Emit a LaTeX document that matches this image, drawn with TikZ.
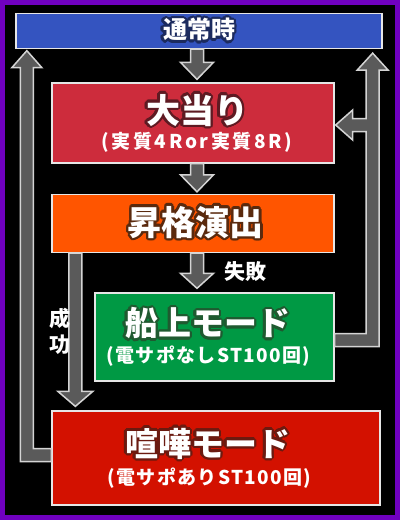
\documentclass[tikz,border=0pt]{standalone}
\usepackage{fontspec}
\setmainfont{Noto Sans CJK JP}
\newfontfamily\subfont{Noto Sans CJK JP}[LetterSpace=14]
\newfontfamily\modesubfont{Noto Sans CJK JP}[LetterSpace=7]
\newfontfamily\titlefont{Noto Sans CJK JP Black}
\usepackage{contour}
\contourlength{2.5pt}
\usetikzlibrary{calc}
\definecolor{framepurple}{HTML}{7000C0}
\definecolor{boxedge}{HTML}{E6E6E6}
\definecolor{arrowgray}{HTML}{5A5A5A}
\definecolor{arrowedge}{HTML}{D4D4D4}
\definecolor{normalblue}{HTML}{3454C0}
\definecolor{normaldark}{HTML}{1C2B5E}
\definecolor{jackred}{HTML}{CD2C3C}
\definecolor{jackdark}{HTML}{5E1A22}
\definecolor{promoorange}{HTML}{FF5500}
\definecolor{promodark}{HTML}{5A2A0E}
\definecolor{shipgreen}{HTML}{009944}
\definecolor{shipdark}{HTML}{1F5A30}
\definecolor{fightred}{HTML}{D31100}
\definecolor{fightdark}{HTML}{6B1A10}

\begin{document}
\begin{tikzpicture}[x=1pt, y=-1pt,
	box/.style={draw=boxedge, line width=1.3pt, inner sep=0pt, align=center, text=white},
	blockarrow/.style={fill=arrowgray, draw=arrowedge, line width=1.5pt, line join=miter},
	sidelabel/.style={text=white, inner sep=0pt, align=center, font=\bfseries\fontsize{21}{26}\selectfont}]
		\useasboundingbox (0,0) rectangle (400,520);
		\fill[framepurple] (0,0) rectangle (400,520);
		\fill[black] (5,5) rectangle (395,515);

		% boxes
		\node[box, fill=normalblue, minimum width=366, minimum height=35] (normal) at (199,31) {\titlefont\fontsize{24}{24}\selectfont\contour{normaldark}{通常時}};
		\node[box, fill=jackred, minimum width=282, minimum height=80] (jackpot) at (193,123) {\hspace*{8pt}{\titlefont\fontsize{34}{34}\selectfont\contour{jackdark}{大当り}}\\[2pt]\hspace*{8pt}{\subfont\bfseries\fontsize{19}{19}\selectfont (実質4Ror実質8R)}};
		\node[box, fill=promoorange, minimum width=282, minimum height=58] (promo) at (193,223.5) {\hspace*{5pt}\titlefont\fontsize{34}{34}\selectfont\contour{promodark}{昇格演出}};
		\node[box, fill=shipgreen, minimum width=239, minimum height=88] (ship) at (214.5,337) {{\titlefont\fontsize{33}{33}\selectfont\contour{shipdark}{船上モード}}\hspace*{14pt}\\[3pt]{\modesubfont\bfseries\fontsize{19}{19}\selectfont (電サポなしST100回)}\hspace*{12pt}};
		\node[box, fill=fightred, minimum width=328, minimum height=94] (fight) at (216,458) {{\titlefont\fontsize{33}{33}\selectfont\contour{fightdark}{喧嘩モード}}\hspace*{17pt}\\[5pt]{\modesubfont\bfseries\fontsize{19}{19}\selectfont (電サポありST100回)}\hspace*{13pt}};

		% straight arrows
		\coordinate (a1) at ($(normal.south)+(-2,0)$);
		\coordinate (a2) at ($(jackpot.north)+(4,-3)$);
		\filldraw[blockarrow] ($(a1)+(-6.5,0)$) -- ($(a2)+(-6.5,-17)$) -- ($(a2)+(-16.5,-17)$) -- (a2) -- ($(a2)+(16.5,-17)$) -- ($(a2)+(6.5,-17)$) -- ($(a1)+(6.5,0)$) -- cycle;

		\coordinate (b1) at ($(jackpot.south)+(4,0)$);
		\coordinate (b2) at ($(promo.north)+(4,-2)$);
		\filldraw[blockarrow] ($(b1)+(-6.5,0)$) -- ($(b2)+(-6.5,-17)$) -- ($(b2)+(-16.5,-17)$) -- (b2) -- ($(b2)+(16.5,-17)$) -- ($(b2)+(6.5,-17)$) -- ($(b1)+(6.5,0)$) -- cycle;

		\coordinate (c1) at ($(promo.south)+(4,0)$);
		\coordinate (c2) at ($(c1 |- ship.north)+(0,-4)$);
		\filldraw[blockarrow] ($(c1)+(-6.5,0)$) -- ($(c2)+(-6.5,-15)$) -- ($(c2)+(-16.5,-15)$) -- (c2) -- ($(c2)+(16.5,-15)$) -- ($(c2)+(6.5,-15)$) -- ($(c1)+(6.5,0)$) -- cycle;
		\node[sidelabel] (fail) at (245,272) {失敗};

		\coordinate (d1) at ($(promo.south west)+(24,0)$);
		\coordinate (d2) at ($(d1 |- fight.north)+(0,-4)$);
		\filldraw[blockarrow] ($(d1)+(-6.5,0)$) -- ($(d2)+(-6.5,-15)$) -- ($(d2)+(-17.5,-15)$) -- (d2) -- ($(d2)+(17.5,-15)$) -- ($(d2)+(6.5,-15)$) -- ($(d1)+(6.5,0)$) -- cycle;
		\node[sidelabel] (success) at (60,331) {成\\功};

		% loop back on the left
		\coordinate (e1) at ($(fight.west)+(0,-3)$);
		\coordinate (e2) at ($(normal.south west)+(11.5,1.5)$);
		\filldraw[blockarrow] ($(e1)+(0,6.5)$) -- ($(e2 |- e1)+(-6.5,6.5)$) -- ($(e2)+(-6.5,17)$) -- ($(e2)+(-15,17)$) -- (e2) -- ($(e2)+(15,17)$) -- ($(e2)+(6.5,17)$) -- ($(e2 |- e1)+(6.5,-6.5)$) -- ($(e1)+(0,-6.5)$) -- cycle;

		% loop back on the right, with branch to jackpot
		\coordinate (f1) at ($(ship.east)+(0,3)$);
		\coordinate (f2) at ($(normal.south east)+(-10,4)$);
		\coordinate (g2) at ($(jackpot.east)+(1,2)$);
		\filldraw[blockarrow] ($(f1)+(0,6.5)$) -- ($(f2 |- f1)+(6.5,6.5)$) -- ($(f2)+(6.5,17)$) -- ($(f2)+(15.5,17)$) -- (f2) -- ($(f2)+(-15.5,17)$) -- ($(f2)+(-6.5,17)$) -- ($(f2 |- g2)+(-6.5,-6.5)$) -- ($(g2)+(17,-6.5)$) -- ($(g2)+(17,-15)$) -- (g2) -- ($(g2)+(17,15)$) -- ($(g2)+(17,6.5)$) -- ($(f2 |- g2)+(-6.5,6.5)$) -- ($(f2 |- f1)+(-6.5,-6.5)$) -- ($(f1)+(0,-6.5)$) -- cycle;
	\end{tikzpicture}
\end{document}
